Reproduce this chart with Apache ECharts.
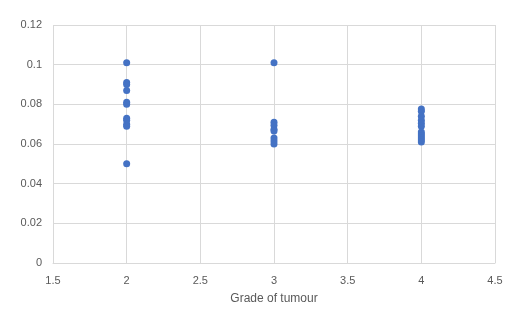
<!DOCTYPE html>
<html><head><meta charset="utf-8">
<script src="https://cdn.jsdelivr.net/npm/echarts@6/dist/echarts.min.js"></script>
<style>html,body{margin:0;padding:0;background:#fff}#c{width:516px;height:320px}</style>
</head><body><div id="c"></div>
<script>
const grade2 = [0.101, 0.091, 0.090, 0.087, 0.081, 0.080, 0.073, 0.072, 0.070, 0.069, 0.050];
const grade3 = [0.101, 0.071, 0.0695, 0.0675, 0.0665, 0.063, 0.0615, 0.060];
const grade4 = [0.0776, 0.0765, 0.074, 0.072, 0.0705, 0.069, 0.066, 0.065, 0.064, 0.063, 0.062, 0.061];
const grades = [2, 3, 4];
const groups = [grade2, grade3, grade4];
const xTitle = 'Grade of tumour';

const data = [];
groups.forEach((g, i) => g.forEach(v => data.push([grades[i], v])));

const chart = echarts.init(document.getElementById('c'));
const lab = {color: '#595959', fontSize: 11, fontFamily: 'Liberation Sans, Arial, sans-serif'};
chart.setOption({
  animation: false,
  grid: {left: 53, right: 21, top: 25, bottom: 57},
  xAxis: {
    type: 'value', min: 1.5, max: 4.5, interval: 0.5,
    name: xTitle, nameLocation: 'middle', nameGap: 30,
    nameTextStyle: {color: '#595959', fontSize: 12, fontFamily: 'Liberation Sans, Arial, sans-serif'},
    axisLine: {show: true, lineStyle: {color: '#d9d9d9'}},
    axisTick: {show: false},
    axisLabel: Object.assign({margin: 12}, lab),
    splitLine: {show: true, lineStyle: {color: '#d9d9d9'}}
  },
  yAxis: {
    type: 'value', min: 0, max: 0.12, interval: 0.02,
    axisLine: {show: false}, axisTick: {show: false},
    axisLabel: Object.assign({margin: 11, formatter: v => String(Math.round(v * 100) / 100)}, lab),
    splitLine: {show: true, lineStyle: {color: '#d9d9d9'}}
  },
  series: [{
    type: 'scatter', data: data, symbol: 'circle', symbolSize: 7,
    itemStyle: {color: '#4472C4', opacity: 1}
  }]
});
</script></body></html>
